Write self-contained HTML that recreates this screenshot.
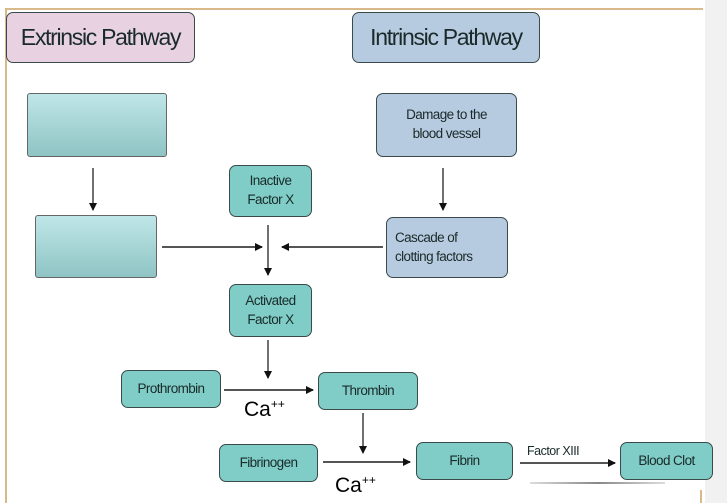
<!DOCTYPE html>
<html><head><style>
body{margin:0;width:727px;height:503px;background:#fff;position:relative;overflow:hidden;font-family:"Liberation Sans",sans-serif}
.b{position:absolute;box-sizing:border-box;border:1.5px solid #3a4a4a;border-radius:7px;display:flex;align-items:center;justify-content:center;text-align:center;font-size:13.5px;color:#1a2a2a;line-height:1.4;letter-spacing:-0.6px}
.t{background:#7fcdc6}
.bl{background:#b7cbe0}
.e{background:linear-gradient(#bfe6e8,#8fc4c4);border-color:#666;border-radius:3px}
</style></head><body>
<div style="position:absolute;left:5px;top:8px;width:698px;height:2px;background:#d9b88a"></div>
<div style="position:absolute;left:5px;top:8px;width:2px;height:495px;background:#d9b88a"></div>
<div style="position:absolute;left:705px;top:0;width:22px;height:503px;background:#f1f1f1"></div>
<div style="position:absolute;left:700px;top:490px;width:2px;height:13px;background:#d9b88a"></div>
<div class="b" style="left:6px;top:12px;width:189px;height:51px;background:#e8d2e2;font-size:23px;letter-spacing:-1.3px">Extrinsic Pathway</div>
<div class="b" style="left:352px;top:12px;width:188px;height:51px;background:#b7cbe0;font-size:23px;letter-spacing:-1.3px">Intrinsic Pathway</div>
<div class="b e" style="left:27px;top:93px;width:140px;height:64px"></div>
<div class="b e" style="left:35px;top:215px;width:122px;height:63px"></div>
<div class="b bl" style="left:376px;top:93px;width:141px;height:64px">Damage to the<br>blood vessel</div>
<div class="b t" style="left:229px;top:165px;width:83px;height:52px">Inactive<br>Factor X</div>
<div class="b bl" style="left:386px;top:217px;width:122px;height:61px;justify-content:flex-start;padding-left:8px;text-align:left">Cascade of<br>clotting factors</div>
<div class="b t" style="left:229px;top:284px;width:83px;height:53px">Activated<br>Factor X</div>
<div class="b t" style="left:121px;top:370px;width:100px;height:38px">Prothrombin</div>
<div class="b t" style="left:318px;top:372px;width:100px;height:38px">Thrombin</div>
<div class="b t" style="left:219px;top:444px;width:99px;height:38px">Fibrinogen</div>
<div class="b t" style="left:416px;top:442px;width:97px;height:38px">Fibrin</div>
<div class="b t" style="left:620px;top:442px;width:93px;height:38px">Blood Clot</div>
<div style="position:absolute;left:244px;top:397px;font-size:21px">Ca<sup style="font-size:12px">++</sup></div>
<div style="position:absolute;left:335px;top:473px;font-size:21px">Ca<sup style="font-size:12px">++</sup></div>
<div style="position:absolute;left:527px;top:444px;font-size:12.5px;color:#1a2a2a;letter-spacing:-0.5px">Factor XIII</div>
<div style="position:absolute;left:530px;top:482px;width:135px;height:2px;background:linear-gradient(90deg,#ddd,#888,#ddd)"></div>
<svg width="727" height="503" style="position:absolute;left:0;top:0">
<defs><marker id="a" markerWidth="8" markerHeight="8" refX="7" refY="4" orient="auto" markerUnits="userSpaceOnUse"><path d="M0,0 L8,4 L0,8 Z" fill="#111"/></marker></defs>
<g stroke="#222" stroke-width="1.3" fill="none" marker-end="url(#a)">
<line x1="93" y1="168" x2="93" y2="210"/>
<line x1="443" y1="168" x2="443" y2="210"/>
<line x1="268" y1="225" x2="268" y2="275"/>
<line x1="162" y1="247" x2="262" y2="247" stroke="#555" stroke-width="2"/>
<line x1="383" y1="247" x2="282" y2="247" stroke="#555" stroke-width="2"/>
<line x1="268" y1="340" x2="268" y2="378"/>
<line x1="224" y1="390" x2="313" y2="390" stroke="#555" stroke-width="2"/>
<line x1="363" y1="413" x2="363" y2="453"/>
<line x1="323" y1="462" x2="410" y2="462" stroke="#555" stroke-width="2"/>
<line x1="520" y1="463" x2="615" y2="463" stroke="#555" stroke-width="2"/>
</g></svg>
</body></html>
